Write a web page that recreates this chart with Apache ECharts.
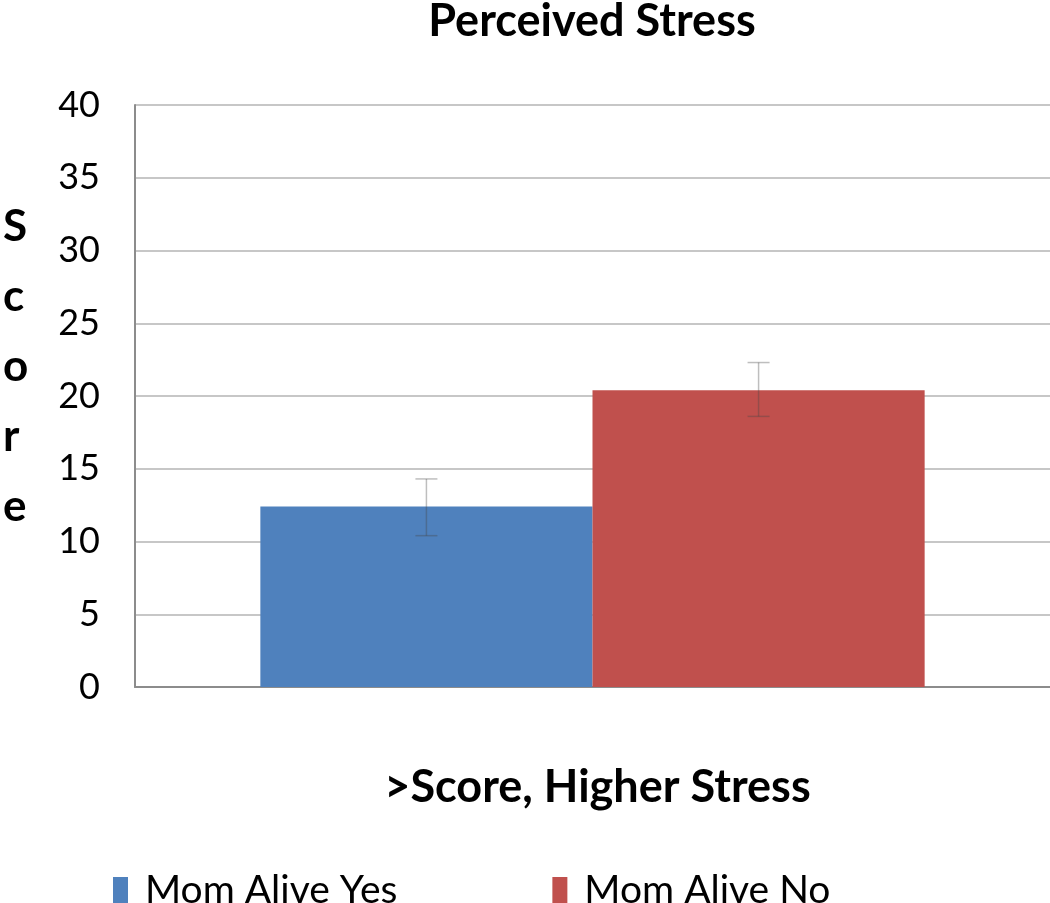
<!DOCTYPE html>
<html><head><meta charset="utf-8">
<script src="https://cdn.jsdelivr.net/npm/echarts@6/dist/echarts.min.js"></script>
<style>html,body{margin:0;padding:0;background:#fff}#c{width:1050px;height:903px}</style>
</head><body><div id="c"></div>
<script>
const categories = ['>Score, Higher Stress'];
const seriesNames = ['Mom Alive Yes', 'Mom Alive No'];
const meanYes = [12.4];
const meanNo = [20.4];
const errYes = [[10.4, 14.3]];
const errNo = [[18.6, 22.3]];
const yTicks = [0, 5, 10, 15, 20, 25, 30, 35, 40];
const colors = ['#4f81bd', '#c0504d'];
const FONT = 'Lato';

const chart = echarts.init(document.getElementById('c'));

function errorSeries(idx, errs) {
  return {
    type: 'custom',
    name: seriesNames[idx] + ' error',
    z: 10,
    silent: true,
    encode: { x: 0, y: [1, 2] },
    data: errs.map((e, i) => [i, e[0], e[1]]),
    renderItem: function (params, api) {
      const lo = api.coord([api.value(0), api.value(1)]);
      const hi = api.coord([api.value(0), api.value(2)]);
      const bandW = api.size([1, 0])[0];
      const barW = bandW * (1 - 0.274) / 2;
      const cx = lo[0] + (idx === 0 ? -barW / 2 : barW / 2);
      const half = 11;
      const style = { stroke: 'rgba(70,70,70,0.35)', lineWidth: 1.5 };
      return {
        type: 'group',
        children: [
          { type: 'line', shape: { x1: cx, y1: hi[1], x2: cx, y2: lo[1] }, style },
          { type: 'line', shape: { x1: cx - half, y1: hi[1], x2: cx + half, y2: hi[1] }, style },
          { type: 'line', shape: { x1: cx - half, y1: lo[1], x2: cx + half, y2: lo[1] }, style }
        ]
      };
    }
  };
}

chart.setOption({
  animation: false,
  title: {
    text: 'Perceived Stress',
    left: 587, top: -6, textAlign: 'center',
    textStyle: { fontFamily: FONT, fontWeight: 'bold', fontSize: 45, color: '#000' }
  },
  graphic: [{
    type: 'text', left: 3, top: 192,
    style: {
      text: 'S\nc\no\nr\ne', fontFamily: FONT, fontWeight: 'bold', fontSize: 44,
      lineHeight: 70, fill: '#000', align: 'left'
    }
  }],
  legend: {
    data: seriesNames,
    left: 108, top: 866,
    itemWidth: 15, itemHeight: 27, itemGap: 155,
    icon: 'rect',
    textStyle: { fontFamily: FONT, fontSize: 39, color: '#000', padding: [0, 0, 0, 12] }
  },
  grid: { left: 135, right: 0, top: 105, bottom: 216, containLabel: false },
  xAxis: {
    type: 'category', data: categories,
    axisLine: { lineStyle: { color: '#8c8c8c', width: 2 } },
    axisTick: { show: false },
    axisLabel: { margin: 78, padding: [0, 0, 0, 10], fontFamily: FONT, fontWeight: 'bold', fontSize: 45, color: '#000' }
  },
  yAxis: {
    type: 'value', min: 0, max: 40, interval: 5,
    axisLine: { show: true, lineStyle: { color: '#8c8c8c', width: 2 } },
    axisTick: { show: false },
    splitLine: { lineStyle: { color: '#b4b4b4', width: 1.5 } },
    axisLabel: {
      margin: 35, fontFamily: FONT, fontSize: 36, color: '#000',
      formatter: v => yTicks.includes(v) ? String(v) : ''
    }
  },
  series: [
    { type: 'bar', name: seriesNames[0], data: meanYes, itemStyle: { color: colors[0] }, barGap: '0%', barCategoryGap: '27.4%' },
    { type: 'bar', name: seriesNames[1], data: meanNo, itemStyle: { color: colors[1] }, barGap: '0%', barCategoryGap: '27.4%' },
    errorSeries(0, errYes),
    errorSeries(1, errNo)
  ]
});
</script></body></html>
